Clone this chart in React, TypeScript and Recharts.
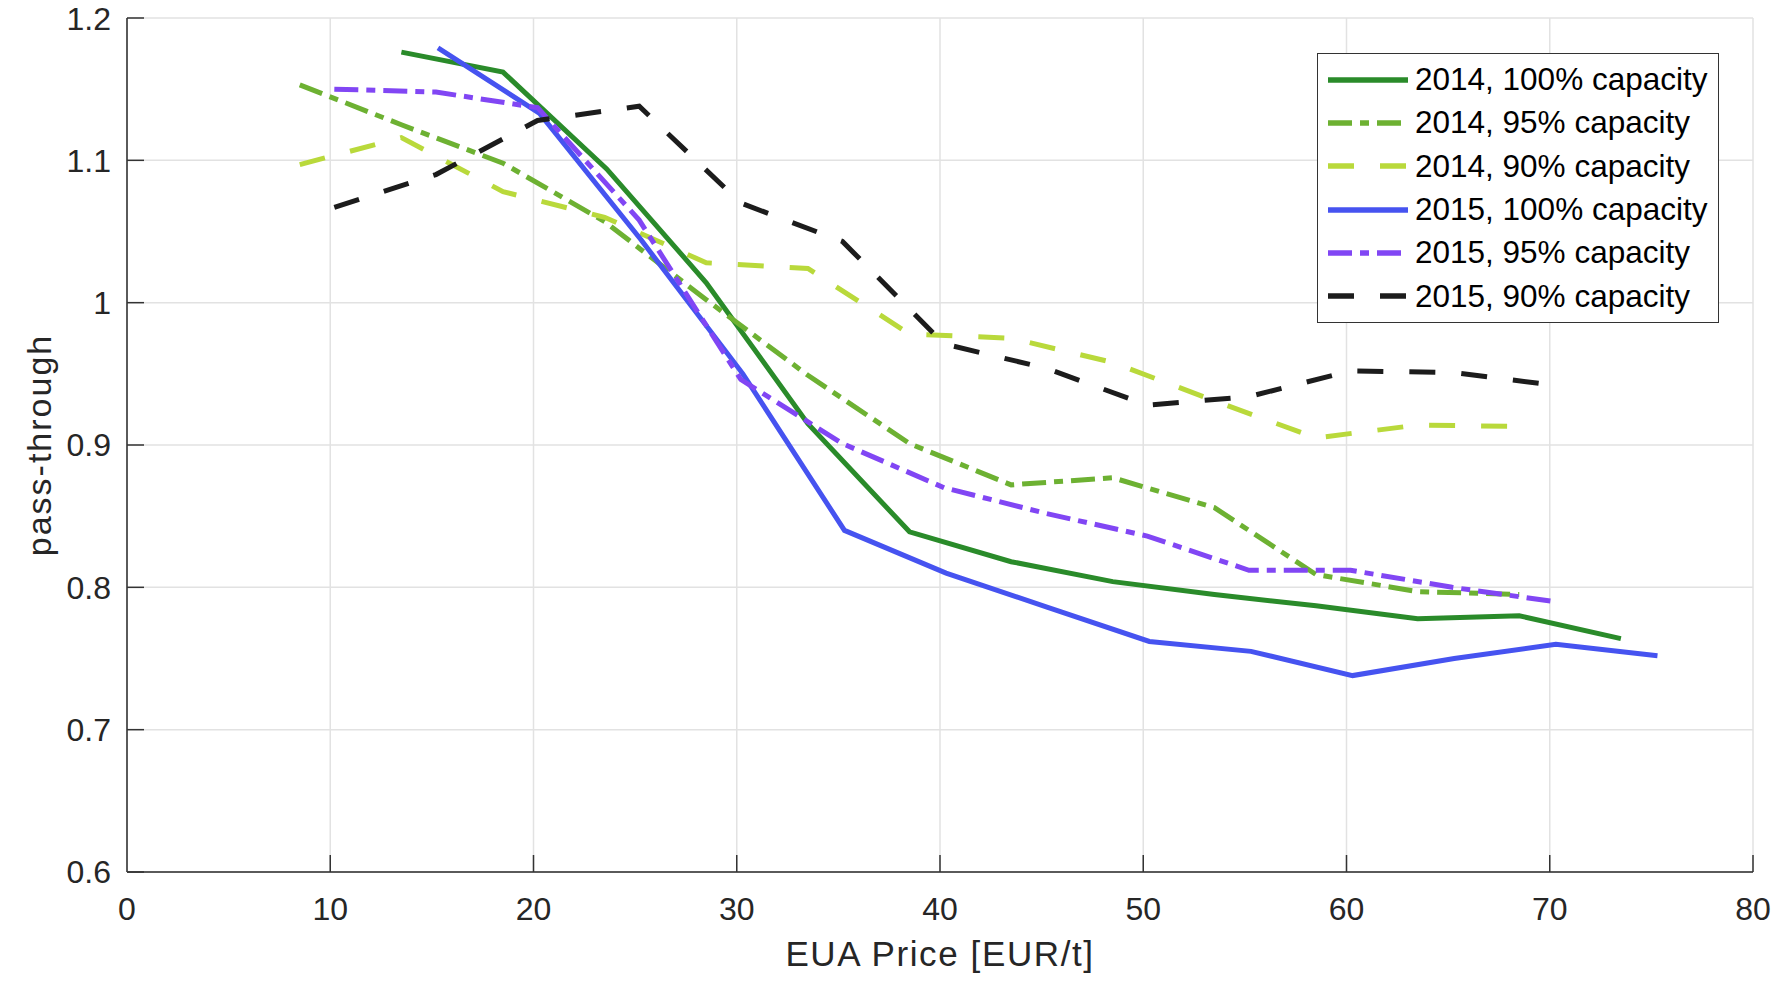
import React from "react";
import {
  LineChart,
  Line,
  XAxis,
  YAxis,
  CartesianGrid,
  Legend,
  Label,
} from "recharts";

// EUA price (x) and pass-through (y) per scenario
const price2014Full = [13.5, 18.5, 23.6, 28.5, 33.5, 38.5, 43.5, 48.5, 53.5, 58.5, 63.5, 68.5, 73.5];
const pass2014Full = [1.176, 1.162, 1.094, 1.014, 0.915, 0.839, 0.818, 0.804, 0.795, 0.787, 0.778, 0.78, 0.764];

const price2014Mid = [8.5, 13.5, 18.5, 23.5, 28.5, 33.5, 38.5, 43.5, 48.5, 53.5, 58.5, 63.5, 68.5];
const pass2014Mid = [1.153, 1.125, 1.098, 1.057, 1.002, 0.949, 0.901, 0.872, 0.877, 0.856, 0.809, 0.797, 0.795];

const price2014Low = [8.5, 13.5, 18.5, 23.5, 28.5, 33.5, 38.5, 43.5, 48.5, 53.5, 58.5, 63.5, 68.5];
const pass2014Low = [1.097, 1.116, 1.078, 1.06, 1.028, 1.024, 0.978, 0.975, 0.958, 0.931, 0.905, 0.914, 0.913];

const price2015Full = [15.3, 20.3, 25.3, 30.3, 35.3, 40.3, 45.3, 50.3, 55.3, 60.3, 65.3, 70.3, 75.3];
const pass2015Full = [1.179, 1.133, 1.044, 0.95, 0.84, 0.81, 0.786, 0.762, 0.755, 0.738, 0.75, 0.76, 0.752];

const price2015Mid = [10.2, 15.2, 20.2, 25.2, 30.2, 35.2, 40.2, 45.2, 50.2, 55.2, 60.2, 65.2, 70.2];
const pass2015Mid = [1.15, 1.148, 1.137, 1.058, 0.946, 0.901, 0.87, 0.852, 0.836, 0.812, 0.812, 0.8, 0.79];

const price2015Low = [10.2, 15.2, 20.2, 25.2, 30.2, 35.2, 40.2, 45.2, 50.2, 55.2, 60.2, 65.2, 70.2];
const pass2015Low = [1.067, 1.09, 1.128, 1.138, 1.07, 1.043, 0.971, 0.954, 0.928, 0.934, 0.952, 0.951, 0.942];

const xTicks = [0, 10, 20, 30, 40, 50, 60, 70, 80];
const yTicks = [0.6, 0.7, 0.8, 0.9, 1, 1.1, 1.2];

const toPoints = (xs: number[], ys: number[]) => xs.map((x, i) => ({ x, y: ys[i] }));

const DASHED = "26 26";
const DASH_DOT = "24 8 9 8";

const series = [
  { name: "2014, 100% capacity", color: "#2a8b2a", dash: undefined, data: toPoints(price2014Full, pass2014Full) },
  { name: "2014, 95% capacity", color: "#6db132", dash: DASH_DOT, data: toPoints(price2014Mid, pass2014Mid) },
  { name: "2014, 90% capacity", color: "#b9d93b", dash: DASHED, data: toPoints(price2014Low, pass2014Low) },
  { name: "2015, 100% capacity", color: "#4653f0", dash: undefined, data: toPoints(price2015Full, pass2015Full) },
  { name: "2015, 95% capacity", color: "#8146f4", dash: DASH_DOT, data: toPoints(price2015Mid, pass2015Mid) },
  { name: "2015, 90% capacity", color: "#1c1c1c", dash: DASHED, data: toPoints(price2015Low, pass2015Low) },
];

const FONT = '"Liberation Sans", Arial, Helvetica, sans-serif';

const renderLegend = () => (
  <div
    style={{
      border: "1.5px solid #333",
      background: "#fff",
      padding: "4px 0",
      width: 402,
      boxSizing: "border-box",
      fontFamily: FONT,
      fontSize: 31.5,
      color: "#000",
    }}
  >
    {series.map((s) => (
      <div key={s.name} style={{ display: "flex", alignItems: "center", height: 43.3 }}>
        <svg width={97} height={20} style={{ flex: "none" }}>
          <line x1={10} x2={90} y1={10} y2={10} stroke={s.color} strokeWidth={5.5} strokeDasharray={s.dash} />
        </svg>
        <span style={{ whiteSpace: "nowrap" }}>{s.name}</span>
      </div>
    ))}
  </div>
);

const XLabel = (props: any) => {
  const { viewBox } = props;
  return (
    <text
      x={viewBox.x + viewBox.width / 2}
      y={viewBox.y + 94}
      textAnchor="middle"
      fontFamily={FONT}
      fontSize={35}
      letterSpacing={1.6}
      fill="#262626"
    >
      EUA Price [EUR/t]
    </text>
  );
};

const YLabel = (props: any) => {
  const { viewBox } = props;
  const cx = viewBox.x + 39;
  const cy = viewBox.y + viewBox.height / 2;
  return (
    <text
      x={cx}
      y={cy}
      transform={`rotate(-90, ${cx}, ${cy})`}
      textAnchor="middle"
      dominantBaseline="central"
      fontFamily={FONT}
      fontSize={34}
      letterSpacing={2}
      fill="#262626"
    >
      pass-through
    </text>
  );
};

const tickStyle = { fontFamily: FONT, fontSize: 32, fill: "#262626" };

export default function App() {
  return (
    <div style={{ position: "absolute", left: 0, top: 0, background: "#fff" }}>
      <LineChart width={1778} height={981} margin={{ top: 18, right: 25, bottom: 0, left: 0 }}>
        <CartesianGrid stroke="#e2e2e2" strokeWidth={1.5} />
        <XAxis
          dataKey="x"
          type="number"
          domain={[0, 80]}
          ticks={xTicks}
          height={109}
          tickSize={-17}
          tickMargin={42}
          tick={tickStyle}
          axisLine={{ stroke: "#5a5a5a", strokeWidth: 2 }}
          tickLine={{ stroke: "#333", strokeWidth: 1.5 }}
        >
          <Label content={<XLabel />} />
        </XAxis>
        <YAxis
          dataKey="y"
          type="number"
          domain={[0.6, 1.2]}
          ticks={yTicks}
          width={127}
          tickSize={-17}
          tickMargin={33}
          tick={tickStyle}
          tickFormatter={(v: number) => String(Number(v.toFixed(1)))}
          axisLine={{ stroke: "#5a5a5a", strokeWidth: 2 }}
          tickLine={{ stroke: "#333", strokeWidth: 1.5 }}
        >
          <Label content={<YLabel />} />
        </YAxis>
        <Legend
          layout="vertical"
          align="center"
          verticalAlign="middle"
          content={renderLegend}
          wrapperStyle={{ left: 1317, top: 53, width: 402, height: 269 }}
        />
        {series.map((s) => (
          <Line
            key={s.name}
            name={s.name}
            data={s.data}
            dataKey="y"
            type="linear"
            stroke={s.color}
            strokeWidth={5}
            strokeDasharray={s.dash}
            dot={false}
            activeDot={false}
            isAnimationActive={false}
          />
        ))}
      </LineChart>
    </div>
  );
}
